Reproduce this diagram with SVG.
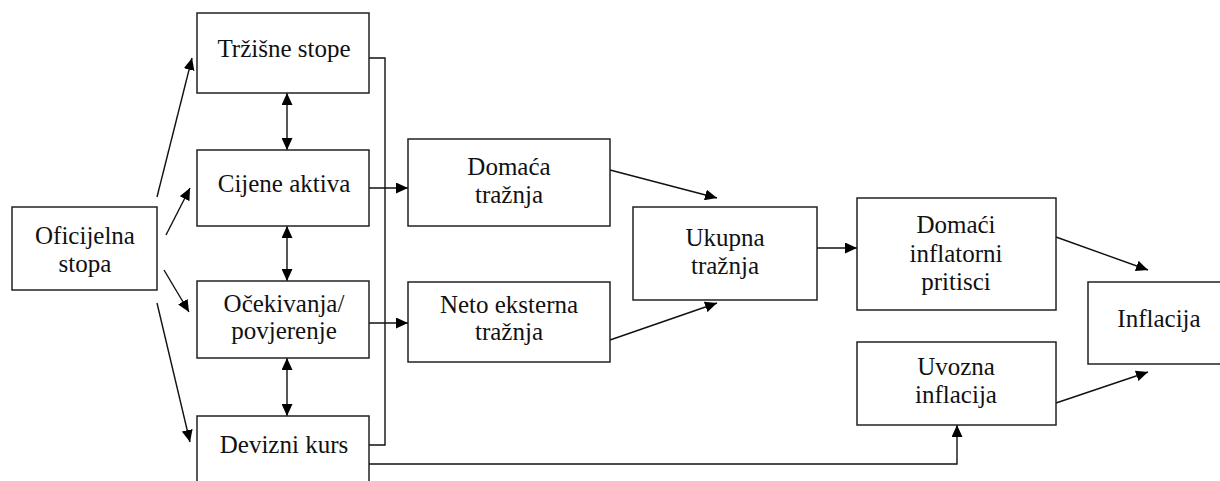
<svg xmlns="http://www.w3.org/2000/svg" width="1220" height="481" viewBox="0 0 1220 481">
  <style>
    .box { fill: #fff; stroke: #222; stroke-width: 1.5; }
    .lbl { font-family: 'Liberation Serif', 'DejaVu Serif', serif; font-size: 25px; fill: #111; text-anchor: middle; }
    .ln { fill: none; stroke: #111; stroke-width: 1.4; }
    .arr { marker-end: url(#head); }
    .dbl { marker-start: url(#head); marker-end: url(#head); }
  </style>
  <defs>
    <marker id="head" markerUnits="userSpaceOnUse" markerWidth="12" markerHeight="11" refX="12" refY="5.5" orient="auto-start-reverse">
      <path d="M0,0 L12,5.5 L0,11 z" fill="#000"/>
    </marker>
  </defs>
  <rect width="1220" height="481" fill="#fff"/>

  <g id="connectors">
    <!-- official rate fans out to the four channels -->
    <line class="ln arr" x1="157" y1="197" x2="192" y2="58"/>
    <line class="ln arr" x1="166" y1="235" x2="190" y2="188"/>
    <line class="ln arr" x1="164" y1="270" x2="189" y2="312"/>
    <line class="ln arr" x1="157" y1="303" x2="190" y2="442"/>
    <!-- two-way links between channels -->
    <line class="ln dbl" x1="287" y1="93" x2="287" y2="150"/>
    <line class="ln dbl" x1="287" y1="226" x2="287" y2="281"/>
    <line class="ln dbl" x1="287" y1="358" x2="287" y2="416"/>
    <!-- collecting bus on the right of the channels -->
    <polyline class="ln" points="369,58 385,58 385,445 369,445"/>
    <line class="ln arr" x1="369" y1="188" x2="408" y2="188"/>
    <line class="ln arr" x1="369" y1="323" x2="408" y2="323"/>
    <!-- demand to total demand -->
    <line class="ln arr" x1="610" y1="170" x2="717" y2="198"/>
    <line class="ln arr" x1="610" y1="340" x2="717" y2="303"/>
    <line class="ln arr" x1="817" y1="248" x2="857" y2="248"/>
    <!-- pressures to inflation -->
    <line class="ln arr" x1="1056" y1="237" x2="1148" y2="270"/>
    <line class="ln arr" x1="1056" y1="403" x2="1148" y2="372"/>
    <!-- exchange rate to import inflation -->
    <polyline class="ln arr" points="369,464 957,464 957,425"/>
  </g>

  <g id="oficijelna-stopa">
    <rect class="box" x="12" y="207" width="145" height="83"/>
    <text class="lbl" x="85" y="244">Oficijelna</text>
    <text class="lbl" x="85" y="272">stopa</text>
  </g>
  <g id="trzisne-stope">
    <rect class="box" x="197" y="13" width="172" height="80"/>
    <text class="lbl" x="284" y="57">Tržišne stope</text>
  </g>
  <g id="cijene-aktiva">
    <rect class="box" x="197" y="150" width="172" height="76"/>
    <text class="lbl" x="284" y="192">Cijene aktiva</text>
  </g>
  <g id="ocekivanja">
    <rect class="box" x="197" y="281" width="172" height="77"/>
    <text class="lbl" x="284" y="312">Očekivanja/</text>
    <text class="lbl" x="284" y="339">povjerenje</text>
  </g>
  <g id="devizni-kurs">
    <rect class="box" x="197" y="416" width="172" height="80"/>
    <text class="lbl" x="284" y="453">Devizni kurs</text>
  </g>
  <g id="domaca-traznja">
    <rect class="box" x="408" y="139" width="202" height="87"/>
    <text class="lbl" x="509" y="175">Domaća</text>
    <text class="lbl" x="509" y="203">tražnja</text>
  </g>
  <g id="neto-eksterna-traznja">
    <rect class="box" x="408" y="282" width="202" height="80"/>
    <text class="lbl" x="509" y="313">Neto eksterna</text>
    <text class="lbl" x="509" y="340">tražnja</text>
  </g>
  <g id="ukupna-traznja">
    <rect class="box" x="633" y="207" width="184" height="93"/>
    <text class="lbl" x="725" y="246">Ukupna</text>
    <text class="lbl" x="725" y="274">tražnja</text>
  </g>
  <g id="domaci-inflatorni-pritisci">
    <rect class="box" x="857" y="198" width="199" height="112"/>
    <text class="lbl" x="956" y="233">Domaći</text>
    <text class="lbl" x="956" y="262">inflatorni</text>
    <text class="lbl" x="956" y="290">pritisci</text>
  </g>
  <g id="uvozna-inflacija">
    <rect class="box" x="857" y="342" width="199" height="83"/>
    <text class="lbl" x="956" y="375">Uvozna</text>
    <text class="lbl" x="956" y="403">inflacija</text>
  </g>
  <g id="inflacija">
    <rect class="box" x="1088" y="282" width="145" height="82"/>
    <text class="lbl" x="1159" y="327">Inflacija</text>
  </g>
</svg>
